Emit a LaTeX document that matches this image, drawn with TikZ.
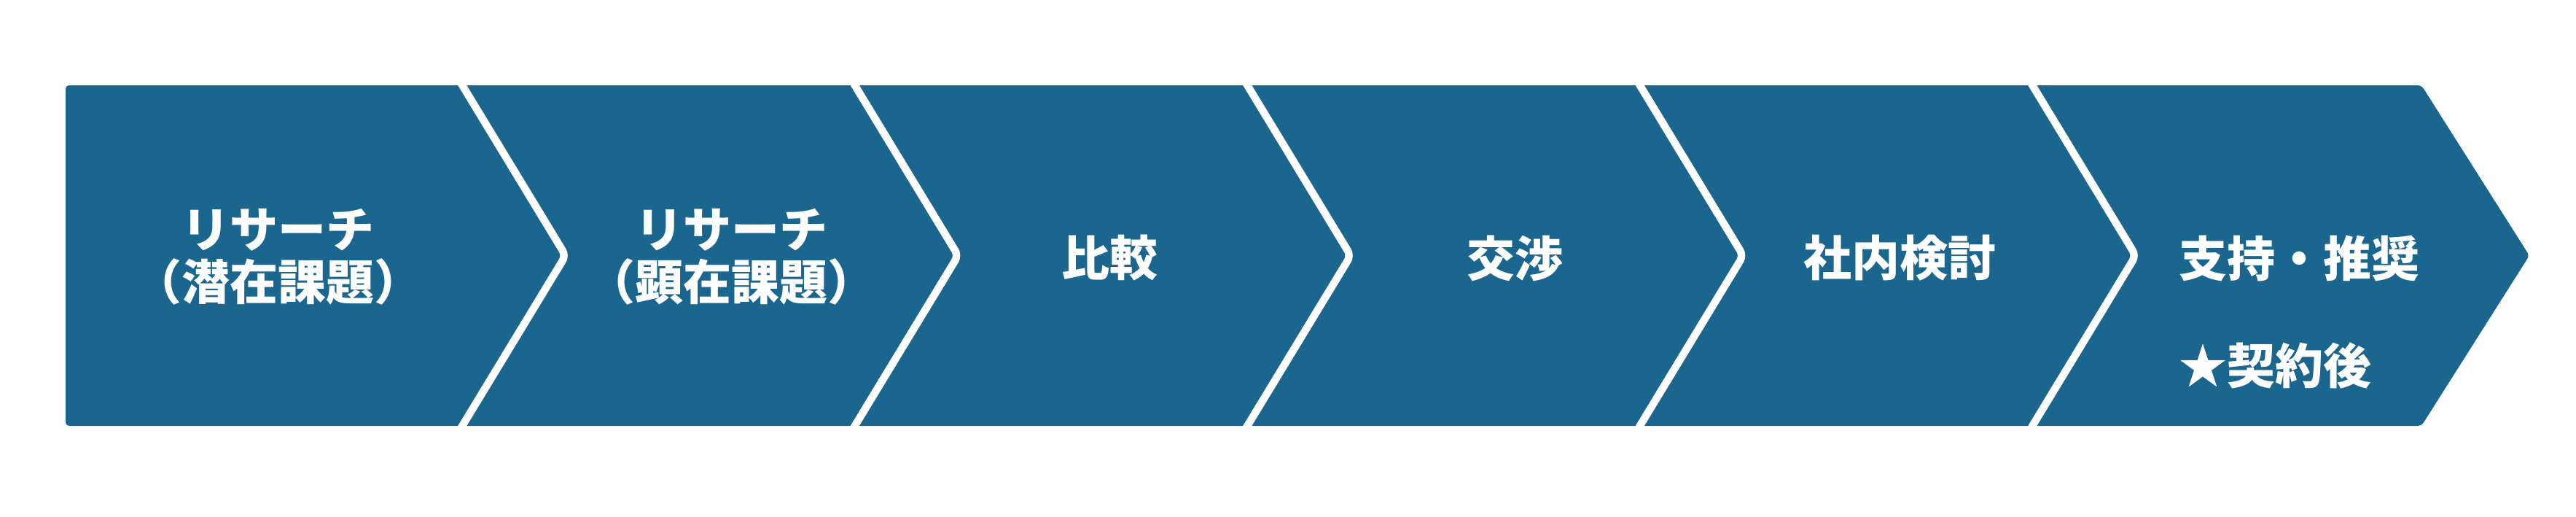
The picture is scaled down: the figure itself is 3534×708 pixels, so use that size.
\documentclass[tikz,border=0pt]{standalone}
\usepackage{fontspec}
\setmainfont{Noto Sans CJK JP}
\definecolor{stepblue}{RGB}{27,102,142}
\begin{document}
\begin{tikzpicture}[x=0.25pt,y=-0.25pt,
  font=\bfseries\fontsize{16.5pt}{18pt}\selectfont,
  lbl/.style={text=white, align=center, inner sep=0pt},
  sep/.style={draw=white, line width=2.6pt, rounded corners=2pt}]
\useasboundingbox (0,0) rectangle (3534,708);
\coordinate (tl) at (90,117);
\coordinate (tr) at (3322,117);
\coordinate (tip) at (3470,350.5);
\coordinate (br) at (3322,584);
\coordinate (bl) at (90,584);
\fill[stepblue, rounded corners=1.2pt] (tl) -- (tr) -- (tip) -- (br) -- (bl) -- cycle;
\foreach \x [count=\i] in {630,1168.5,1707,2245.5,2784} {
  \coordinate (s\i t) at (\x,110);
  \coordinate (s\i m) at (\x+146,350.5);
  \coordinate (s\i b) at (\x,591);
  \draw[sep] (s\i t) -- (s\i m) -- (s\i b);
}
\node[lbl] (t1) at (381,352) {リサーチ\\（潜在課題）};
\node[lbl] (t2) at (1003,352) {リサーチ\\（顕在課題）};
\node[lbl] (t3) at (1522,354) {比較};
\node[lbl] (t4) at (2078,354) {交渉};
\node[lbl] (t5) at (2606,354) {社内検討};
\node[lbl, align=left] (t6) at (3154,428) {支持・推奨\\[18.75pt]★契約後};
\end{tikzpicture}
\end{document}
